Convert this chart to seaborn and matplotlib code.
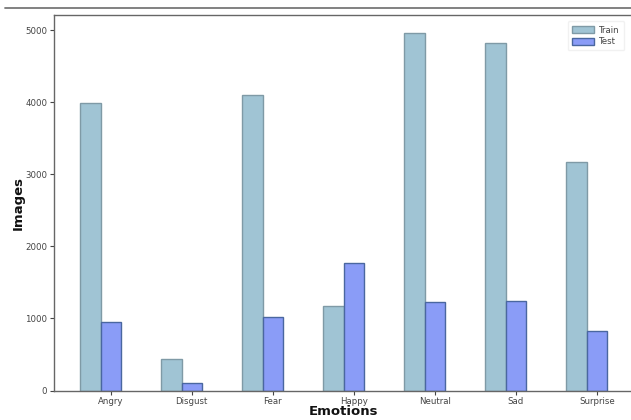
import numpy as np
import pandas as pd
import matplotlib
matplotlib.use("Agg")
import matplotlib.pyplot as plt
from matplotlib.lines import Line2D
from matplotlib.patches import Patch
import seaborn as sns

emotions = ["Angry", "Disgust", "Fear", "Happy", "Neutral", "Sad", "Surprise"]
train_counts = [3995, 436, 4097, 1170, 4965, 4830, 3171]
test_counts = [958, 111, 1024, 1774, 1233, 1247, 831]
series_names = ["Train", "Test"]

df = pd.DataFrame({
    "Emotion": emotions * 2,
    "Images": train_counts + test_counts,
    "Set": [series_names[0]] * len(emotions) + [series_names[1]] * len(emotions),
})

sns.set_style("ticks")
plt.rcParams["font.family"] = ["DejaVu Sans"]

fig = plt.figure(figsize=(6.31, 4.20), dpi=100)
ax = fig.add_axes([0.0856, 0.0702, 0.918, 0.894])

train_c = "#a0c4d4"
test_c = "#8a9cf7"
edges = ["#7f9aa6", "#4a67a0"]
sns.barplot(data=df, x="Emotion", y="Images", hue="Set", order=emotions,
            hue_order=series_names, palette=[train_c, test_c], width=0.5,
            saturation=1, ax=ax, linewidth=1.0, legend=False)
for i, cont in enumerate(ax.containers):
    for p in cont:
        p.set_edgecolor(edges[i])

ax.set_xticks(np.arange(len(emotions)) + 0.125, emotions)
ax.set_xlim(-0.575, 6.575)
ax.set_ylim(0, 5213)
ax.set_yticks([0, 1000, 2000, 3000, 4000, 5000])

ax.tick_params(axis="both", labelsize=6.2, colors="#444444", length=3, width=0.8, pad=2)
for s in ["left", "bottom", "top"]:
    ax.spines[s].set_visible(True)
    ax.spines[s].set_color("#666666")
    ax.spines[s].set_linewidth(1.0)
ax.spines["right"].set_visible(False)

ax.set_xlabel("Emotions", fontsize=9.5, fontweight="bold", color="#111111")
ax.set_ylabel("Images", fontsize=9.5, fontweight="bold", color="#111111")
ax.yaxis.set_label_coords(-0.062, 0.5)
ax.xaxis.set_label_coords(0.5, -0.057)
ax.xaxis.label.set_va("center")
ax.yaxis.label.set_va("center")

handles = [Patch(facecolor=train_c, edgecolor=edges[0], label=series_names[0]),
           Patch(facecolor=test_c, edgecolor=edges[1], label=series_names[1])]
leg = ax.legend(handles=handles, loc="upper right", fontsize=6.2, frameon=True,
                bbox_to_anchor=(0.992, 0.995), handlelength=2.6, handleheight=0.9,
                borderpad=0.5, labelspacing=0.3, handletextpad=0.6)
leg.get_frame().set_edgecolor("#eeeeee")
for t in leg.get_texts():
    t.set_color("#444444")

fig.add_artist(Line2D([0.008, 1.0], [0.981, 0.981], color="#777777", linewidth=1.3,
                      transform=fig.transFigure))

fig.savefig("out.png", dpi=100)
